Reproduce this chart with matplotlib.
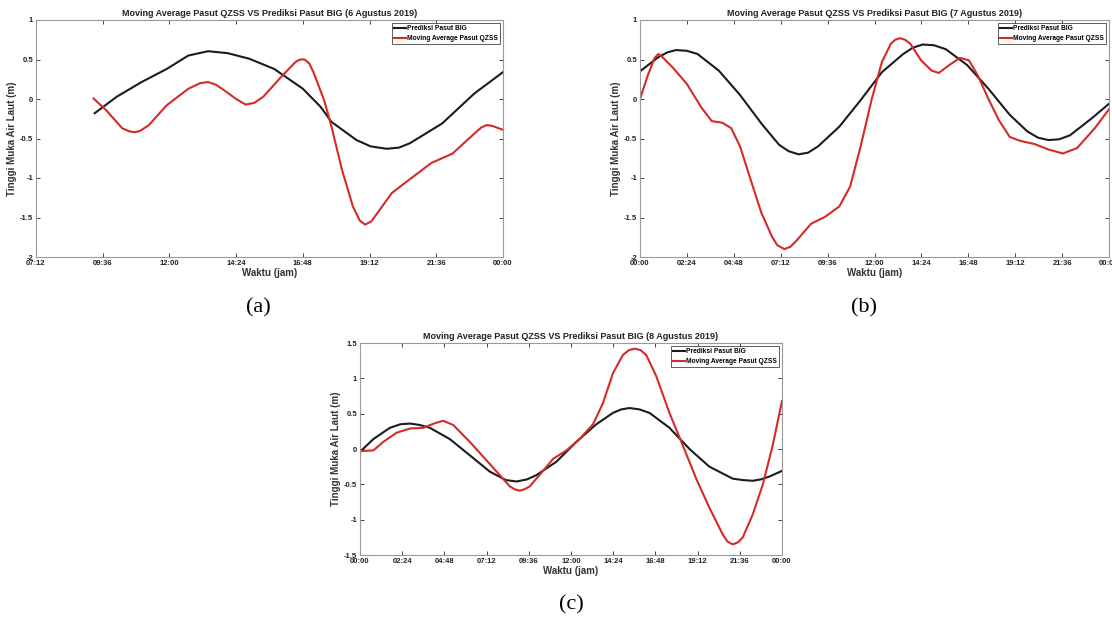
import numpy as np
import matplotlib
matplotlib.use('Agg')
import matplotlib.pyplot as plt

plt.rcParams['font.family'] = ['Liberation Sans', 'DejaVu Sans']

# ---- data (hours, metres) ----
# (a) 6 Agustus 2019
big_a_t = [9.31, 10.11, 11.0, 11.9, 12.68, 13.39, 14.1, 14.87, 15.77, 16.8, 17.44, 17.83, 18.73,
           19.24, 19.82, 20.26, 20.65, 21.81, 22.97, 24.0]
big_a_y = [-0.18, 0.03, 0.215, 0.38, 0.55, 0.605, 0.58, 0.51, 0.38, 0.13, -0.1, -0.29, -0.52,
           -0.60, -0.63, -0.615, -0.56, -0.31, 0.07, 0.34]
qzss_a_t = [9.27, 9.72, 10.3, 10.56, 10.75, 10.94, 11.26, 11.9, 12.68, 13.1, 13.39, 13.68, 13.97, 14.4, 14.74,
            15.05, 15.38, 16.02, 16.54, 16.7, 16.86, 17.03, 17.18, 17.57, 17.83, 18.21, 18.6, 18.85, 19.04,
            19.26, 19.49, 20.0, 20.78, 21.42, 22.19, 22.71, 23.22, 23.42, 23.61, 24.0]
qzss_a_y = [0.006, -0.14, -0.37, -0.41, -0.42, -0.405, -0.33, -0.08, 0.13, 0.2, 0.215, 0.18, 0.11, 0.0, -0.07,
            -0.05, 0.03, 0.28, 0.47, 0.5, 0.5, 0.45, 0.34, -0.02, -0.35, -0.9, -1.36, -1.54, -1.59,
            -1.55, -1.44, -1.19, -0.98, -0.81, -0.69, -0.52, -0.36, -0.33, -0.34, -0.39]

# (b) 7 Agustus 2019
big_b_t = [0.0, 0.94, 1.4, 1.85, 2.4, 2.94, 4.03, 5.12, 6.21, 7.12, 7.6, 8.11, 8.6, 9.11, 10.2, 11.29,
           12.38, 13.47, 13.97, 14.47, 15.05, 15.65, 16.74, 17.83, 18.92, 19.82, 20.37, 20.91, 21.45,
           22.0, 23.09, 24.0]
big_b_y = [0.35, 0.53, 0.59, 0.62, 0.61, 0.57, 0.36, 0.05, -0.31, -0.58, -0.66, -0.70, -0.68, -0.60, -0.35, -0.015,
           0.34, 0.57, 0.65, 0.69, 0.68, 0.63, 0.43, 0.13, -0.20, -0.41, -0.49, -0.52, -0.51,
           -0.46, -0.25, -0.06]
qzss_b_t = [0.0, 0.4, 0.75, 0.94, 1.15, 1.67, 2.4, 3.12, 3.67, 4.21, 4.67, 5.12, 5.66, 6.21, 6.75, 7.02, 7.39,
            7.7, 8.02, 8.75, 9.48, 10.2, 10.75, 11.29, 11.84, 12.38, 12.84, 13.06, 13.29, 13.56, 13.83, 14.38,
            14.92, 15.29, 15.83, 16.37, 16.83, 17.28, 17.83, 18.37, 18.92, 19.46, 20.19, 20.91, 21.64,
            22.37, 23.27, 24.0]
qzss_b_y = [0.0, 0.30, 0.52, 0.57, 0.53, 0.40, 0.19, -0.10, -0.28, -0.30, -0.37, -0.60, -1.02, -1.44, -1.74, -1.85, -1.90,
            -1.87, -1.79, -1.58, -1.49, -1.36, -1.11, -0.60, -0.02, 0.47, 0.70, 0.75, 0.77, 0.75, 0.70, 0.49,
            0.36, 0.33, 0.43, 0.52, 0.49, 0.30, 0.0, -0.27, -0.48, -0.53, -0.57, -0.64, -0.69,
            -0.62, -0.37, -0.13]

# (c) 8 Agustus 2019
big_c_t = [0.0, 0.76, 1.70, 2.3, 2.84, 3.4, 3.97, 5.11, 6.25, 7.38, 8.3, 8.9, 9.5, 10.03, 11.17, 12.3, 13.44,
           14.38, 14.85, 15.33, 15.9, 16.47, 17.6, 18.74, 19.87, 21.2, 21.8, 22.33, 22.8, 23.28, 24.0]
big_c_y = [-0.04, 0.14, 0.30, 0.35, 0.36, 0.34, 0.30, 0.14, -0.09, -0.32, -0.44, -0.46, -0.43, -0.37, -0.18, 0.10, 0.35,
           0.51, 0.56, 0.58, 0.56, 0.51, 0.30, 0.0, -0.25, -0.42, -0.44, -0.45, -0.43, -0.39, -0.31]
qzss_c_t = [0.0, 0.76, 1.32, 2.08, 2.84, 3.6, 4.2, 4.73, 5.3, 6.25, 7.19, 7.95, 8.52, 8.8, 9.08, 9.35, 9.65,
            10.41, 10.98, 11.74, 12.49, 13.25, 13.82, 14.38, 14.95, 15.3, 15.62, 15.95, 16.28, 16.85, 17.6,
            18.36, 19.12, 19.87, 20.63, 20.9, 21.2, 21.5, 21.77, 22.33, 22.9, 23.47, 24.0]
qzss_c_y = [-0.03, -0.02, 0.10, 0.23, 0.29, 0.30, 0.36, 0.40, 0.34, 0.10, -0.16, -0.37, -0.53, -0.57, -0.59, -0.57, -0.53,
            -0.31, -0.14, -0.02, 0.14, 0.35, 0.65, 1.07, 1.33, 1.40, 1.42, 1.40, 1.33, 1.03, 0.51,
            0.05, -0.42, -0.83, -1.21, -1.31, -1.35, -1.32, -1.25, -0.93, -0.51, 0.05, 0.68]

titles = ['Moving Average Pasut QZSS VS Prediksi Pasut BIG (6 Agustus 2019)',
          'Moving Average Pasut QZSS VS Prediksi Pasut BIG (7 Agustus 2019)',
          'Moving Average Pasut QZSS VS Prediksi Pasut BIG (8 Agustus 2019)']
legend_labels = ['Prediksi Pasut BIG', 'Moving Average Pasut QZSS']

xt_a = [7.2, 9.6, 12.0, 14.4, 16.8, 19.2, 21.6, 24.0]
xl_a = ['07:12', '09:36', '12:00', '14:24', '16:48', '19:12', '21:36', '00:00']
xt_day = [0.0, 2.4, 4.8, 7.2, 9.6, 12.0, 14.4, 16.8, 19.2, 21.6, 24.0]
xl_day = ['00:00', '02:24', '04:48', '07:12', '09:36', '12:00', '14:24', '16:48', '19:12', '21:36', '00:00']
yt_ab = [-2, -1.5, -1, -0.5, 0, 0.5, 1]
yl_ab = ['-2', '-1.5', '-1', '-0.5', '0', '0.5', '1']
yt_c = [-1.5, -1, -0.5, 0, 0.5, 1, 1.5]
yl_c = ['-1.5', '-1', '-0.5', '0', '0.5', '1', '1.5']

BLACK = '#1c1c1c'
RED = '#d42a2a'


def draw_panel(ax, t1, y1, t2, y2, title, xt, xl, yt, yl):
    ax.plot(t1, y1, color=BLACK, lw=1.5, label=legend_labels[0], solid_joinstyle='round')
    ax.plot(t2, y2, color=RED, lw=1.5, label=legend_labels[1], solid_joinstyle='round')
    ax.set_xlim(xt[0], xt[-1])
    ax.set_ylim(yt[0], yt[-1])
    ax.set_xticks(xt)
    ax.set_xticklabels(xl)
    ax.set_yticks(yt)
    ax.set_yticklabels(yl)
    ax.tick_params(direction='in', top=True, right=True, length=3, width=0.7,
                   labelsize=5.5, pad=2, colors='#444444', labelcolor='#222222')
    for lab in ax.get_xticklabels() + ax.get_yticklabels():
        lab.set_fontweight('bold')
    for s in ax.spines.values():
        s.set_color('#999999')
        s.set_linewidth(0.8)
    ax.set_title(title, fontsize=6.5, fontweight='bold', pad=3, color='#222222')
    ax.set_xlabel('Waktu (jam)', fontsize=7, fontweight='bold', labelpad=1, color='#333333')
    ax.set_ylabel('Tinggi Muka Air Laut (m)', fontsize=7, fontweight='bold', labelpad=2, color='#333333')
    leg = ax.legend(loc='upper right', fontsize=4.8, frameon=True, fancybox=False,
                    borderaxespad=0.4, handlelength=1.7, handletextpad=0.2,
                    borderpad=0.35, labelspacing=0.45)
    leg.get_frame().set_edgecolor('#333333')
    leg.get_frame().set_linewidth(0.7)
    for txt in leg.get_texts():
        txt.set_fontweight('bold')


fig = plt.figure(figsize=(11.12, 6.19), dpi=100)
ax_a = fig.add_axes([36 / 1112, 1 - 257 / 619, 467 / 1112, 237 / 619])
ax_b = fig.add_axes([640 / 1112, 1 - 257 / 619, 469 / 1112, 237 / 619])
ax_c = fig.add_axes([360 / 1112, 1 - 555 / 619, 422 / 1112, 212 / 619])

draw_panel(ax_a, big_a_t, big_a_y, qzss_a_t, qzss_a_y, titles[0], xt_a, xl_a, yt_ab, yl_ab)
draw_panel(ax_b, big_b_t, big_b_y, qzss_b_t, qzss_b_y, titles[1], xt_day, xl_day, yt_ab, yl_ab)
draw_panel(ax_c, big_c_t, big_c_y, qzss_c_t, qzss_c_y, titles[2], xt_day, xl_day, yt_c, yl_c)

for lbl, x, y in [('(a)', 258, 308), ('(b)', 864, 308), ('(c)', 571, 605)]:
    fig.text(x / 1112, 1 - y / 619, lbl, family=['Liberation Serif', 'DejaVu Serif'],
             fontsize=16, ha='center', va='center')

fig.savefig('out.png', dpi=100)
